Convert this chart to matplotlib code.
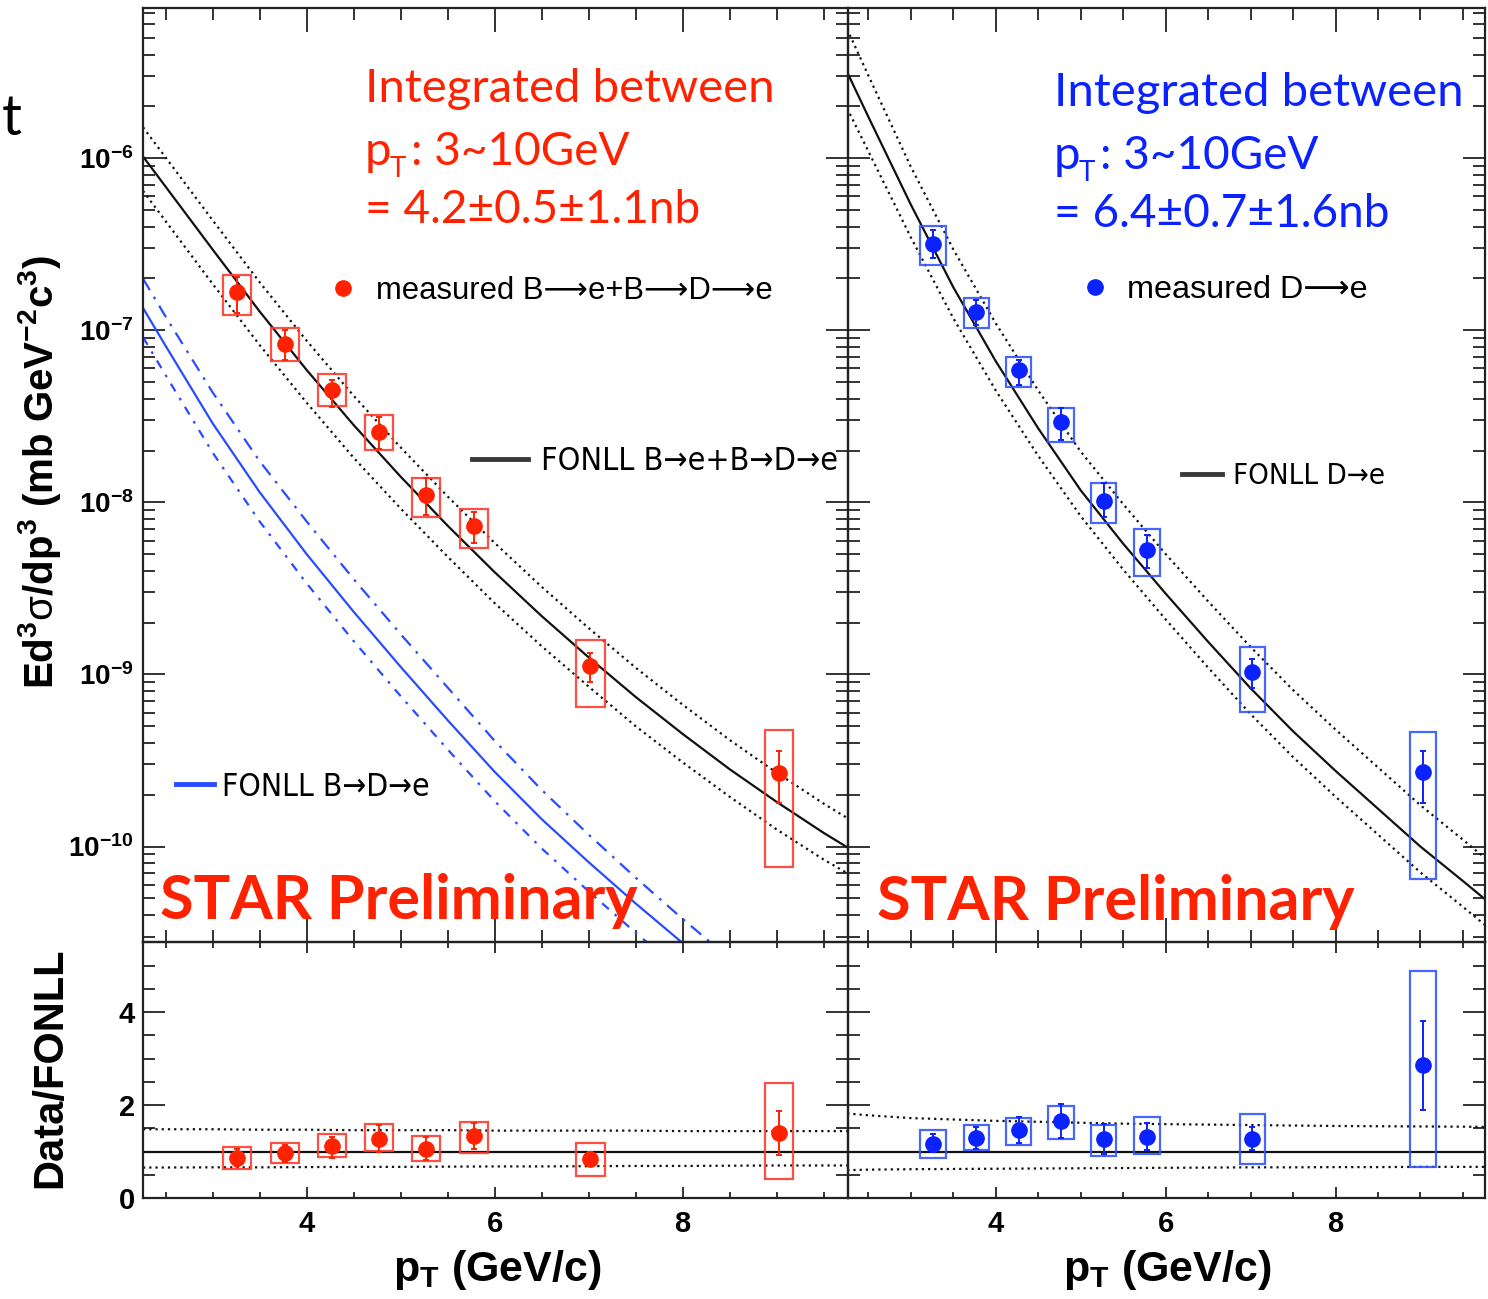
import numpy as np
import matplotlib
matplotlib.use("Agg")
import matplotlib.pyplot as plt
from matplotlib.ticker import MultipleLocator, LogLocator, FixedLocator, FuncFormatter, NullFormatter
from matplotlib.lines import Line2D

plt.rcParams['font.family'] = ['Liberation Sans', 'DejaVu Sans']
plt.rcParams['mathtext.fontset'] = 'custom'
plt.rcParams['mathtext.rm'] = 'Liberation Sans'
plt.rcParams['mathtext.it'] = 'Liberation Sans:italic'
plt.rcParams['mathtext.bf'] = 'Liberation Sans:bold'

# ---- data ----
pt = [3.26, 3.77, 4.27, 4.77, 5.27, 5.78, 7.02, 9.03]
box_hw = 0.15
decades = [1e-10, 1e-9, 1e-8, 1e-7, 1e-6]

# B->e + B->D->e (left)
be_val = [1.66e-7, 8.3e-8, 4.5e-8, 2.56e-8, 1.11e-8, 7.3e-9, 1.12e-9, 2.69e-10]
be_stat_hi = [2.04e-7, 1.00e-7, 5.15e-8, 3.14e-8, 1.39e-8, 8.81e-9, 1.34e-9, 3.61e-10]
be_stat_lo = [1.26e-7, 6.73e-8, 3.59e-8, 2.05e-8, 8.47e-9, 5.82e-9, 9.06e-10, 1.79e-10]
be_sys_hi = [2.10e-7, 1.03e-7, 5.58e-8, 3.22e-8, 1.39e-8, 9.12e-9, 1.59e-9, 4.76e-10]
be_sys_lo = [1.23e-7, 6.67e-8, 3.64e-8, 2.02e-8, 8.26e-9, 5.42e-9, 6.50e-10, 7.59e-11]

# D->e (right)
de_val = [3.18e-7, 1.28e-7, 5.89e-8, 2.92e-8, 1.02e-8, 5.30e-9, 1.03e-9, 2.73e-10]
de_stat_hi = [3.83e-7, 1.49e-7, 6.73e-8, 3.52e-8, 1.29e-8, 6.47e-9, 1.23e-9, 3.60e-10]
de_stat_lo = [2.62e-7, 1.07e-7, 4.82e-8, 2.31e-8, 8.26e-9, 4.15e-9, 8.32e-10, 1.80e-10]
de_sys_hi = [4.01e-7, 1.55e-7, 6.98e-8, 3.52e-8, 1.29e-8, 6.98e-9, 1.45e-9, 4.66e-10]
de_sys_lo = [2.40e-7, 1.03e-7, 4.71e-8, 2.25e-8, 7.57e-9, 3.74e-9, 6.08e-10, 6.46e-11]

# data / FONLL
be_ratio = [0.86, 0.97, 1.11, 1.28, 1.06, 1.33, 0.84, 1.39]
be_ratio_stat_hi = [1.06, 1.15, 1.31, 1.58, 1.31, 1.62, 0.99, 1.87]
be_ratio_stat_lo = [0.68, 0.78, 0.86, 0.99, 0.81, 1.05, 0.70, 0.92]
be_ratio_sys_hi = [1.10, 1.19, 1.37, 1.60, 1.34, 1.63, 1.19, 2.47]
be_ratio_sys_lo = [0.625, 0.76, 0.88, 1.01, 0.79, 0.97, 0.47, 0.40]

de_ratio = [1.17, 1.29, 1.47, 1.66, 1.26, 1.31, 1.26, 2.86]
de_ratio_stat_hi = [1.38, 1.52, 1.75, 2.02, 1.59, 1.62, 1.52, 3.81]
de_ratio_stat_lo = [0.99, 1.06, 1.19, 1.30, 0.94, 1.03, 1.03, 1.89]
de_ratio_sys_hi = [1.47, 1.57, 1.73, 1.99, 1.58, 1.75, 1.80, 4.89]
de_ratio_sys_lo = [0.87, 1.03, 1.15, 1.27, 0.91, 0.94, 0.74, 0.67]

# FONLL curves (log10 values)
pt_be = [2.26, 3.0, 3.5, 4.0, 4.5, 5.0, 5.5, 6.0, 6.5, 7.0, 7.5, 8.0, 8.5, 9.0, 9.5, 9.77]
fonll_be = [-5.99, -6.53, -6.89, -7.23, -7.55, -7.85, -8.135, -8.405, -8.66, -8.90, -9.13, -9.345, -9.55, -9.74, -9.92, -10.01]
fonll_be_hi = [-5.82, -6.36, -6.72, -7.06, -7.38, -7.68, -7.965, -8.235, -8.49, -8.73, -8.96, -9.175, -9.38, -9.57, -9.75, -9.84]
fonll_be_lo = [-6.19, -6.73, -7.085, -7.42, -7.74, -8.035, -8.315, -8.585, -8.835, -9.07, -9.30, -9.51, -9.71, -9.90, -10.075, -10.16]
band_be_hi = [1.48, 1.48, 1.47, 1.47, 1.46, 1.46, 1.46, 1.45, 1.45, 1.45, 1.45, 1.44, 1.44, 1.44, 1.44, 1.44]
band_be_lo = [0.655, 0.66, 0.66, 0.665, 0.67, 0.67, 0.675, 0.68, 0.68, 0.685, 0.69, 0.69, 0.695, 0.70, 0.70, 0.70]

pt_bde = [2.26, 2.5, 3.0, 3.5, 4.0, 4.5, 5.0, 5.5, 6.0, 6.5, 7.0, 7.5, 8.0, 8.5, 9.0]
fonll_bde = [-6.87, -7.09, -7.54, -7.94, -8.30, -8.635, -8.955, -9.265, -9.565, -9.84, -10.09, -10.33, -10.56, -10.78, -10.99]
fonll_bde_hi = [-6.70, -6.92, -7.36, -7.76, -8.11, -8.445, -8.765, -9.075, -9.385, -9.67, -9.93, -10.18, -10.42, -10.65, -10.86]
fonll_bde_lo = [-7.04, -7.26, -7.71, -8.11, -8.47, -8.805, -9.125, -9.435, -9.735, -10.01, -10.26, -10.50, -10.73, -10.95, -11.16]

pt_d = [2.25, 2.5, 3.0, 3.5, 4.0, 4.5, 5.0, 5.5, 6.0, 6.5, 7.0, 7.5, 8.0, 8.5, 9.0, 9.5, 9.77]
fonll_d = [-5.50, -5.76, -6.27, -6.75, -7.18, -7.57, -7.93, -8.24, -8.53, -8.81, -9.08, -9.33, -9.56, -9.78, -10.00, -10.20, -10.31]
fonll_d_hi = [-5.25, -5.52, -6.05, -6.53, -6.96, -7.35, -7.705, -8.01, -8.30, -8.575, -8.84, -9.09, -9.32, -9.54, -9.76, -9.96, -10.07]
fonll_d_lo = [-5.71, -5.96, -6.46, -6.93, -7.35, -7.73, -8.08, -8.39, -8.68, -8.96, -9.23, -9.48, -9.71, -9.93, -10.15, -10.35, -10.46]
band_d_hi = [1.82, 1.78, 1.72, 1.69, 1.66, 1.64, 1.62, 1.60, 1.59, 1.58, 1.57, 1.56, 1.55, 1.545, 1.54, 1.535, 1.53]
band_d_lo = [0.60, 0.61, 0.62, 0.625, 0.63, 0.635, 0.64, 0.645, 0.65, 0.655, 0.66, 0.66, 0.665, 0.665, 0.67, 0.67, 0.67]

RED = '#ff2200'
RED_BOX = '#ff3b30'
BLUE = '#0a22ff'
BLUE_BOX = '#3355ff'
BLUE_LINE = '#2a4cff'
DOTS = (0, (1.0, 1.8))

W, H = 1488, 1299
fig = plt.figure(figsize=(W / 100, H / 100), dpi=100)
renderer = fig.canvas.get_renderer()


def rect(x0, y0, x1, y1):
    return [x0 / W, 1 - y1 / H, (x1 - x0) / W, (y1 - y0) / H]


ax_tl = fig.add_axes(rect(143, 8, 848, 942))
ax_tr = fig.add_axes(rect(848, 8, 1485, 942))
ax_bl = fig.add_axes(rect(143, 942, 848, 1198))
ax_br = fig.add_axes(rect(848, 942, 1485, 1198))


def style(ax, top):
    ax.patch.set_visible(False)
    for s in ax.spines.values():
        s.set_linewidth(1.6)
        s.set_color('#222222')
    ax.set_xlim(2.26, 9.76)
    ax.xaxis.set_major_locator(MultipleLocator(2))
    ax.xaxis.set_minor_locator(MultipleLocator(0.5))
    ax.tick_params(which='both', direction='in', top=True, right=True,
                   color='#333333', width=1.4)
    if top:
        ax.set_yscale('log')
        ax.set_ylim(2.79e-11, 7.46e-6)
        ax.yaxis.set_major_locator(FixedLocator(decades))
        ax.yaxis.set_minor_locator(LogLocator(base=10, subs=np.arange(2, 10), numticks=20))
        ax.yaxis.set_minor_formatter(NullFormatter())
        ax.yaxis.set_major_formatter(FuncFormatter(
            lambda v, p: r'$\mathbf{10^{%d}}$' % int(round(np.log10(v)))))
        ax.tick_params(axis='x', which='major', length=17)
        ax.tick_params(axis='x', which='minor', length=8.5)
        ax.tick_params(axis='y', which='major', length=16, labelsize=20, pad=7)
        ax.tick_params(axis='y', which='minor', length=8.5)
        ax.tick_params(axis='x', labelbottom=False)
    else:
        ax.set_ylim(0, 5.51)
        ax.yaxis.set_major_locator(MultipleLocator(2))
        ax.yaxis.set_minor_locator(MultipleLocator(0.5))
        ax.tick_params(axis='x', which='major', length=8, labelsize=21, pad=9)
        ax.tick_params(axis='x', which='minor', length=4.5)
        ax.tick_params(axis='y', which='major', length=16, labelsize=21, pad=6)
        ax.tick_params(axis='y', which='minor', length=8.5)
        for lab in ax.get_xticklabels() + ax.get_yticklabels():
            lab.set_fontweight('bold')


for a, t in [(ax_tl, True), (ax_tr, True), (ax_bl, False), (ax_br, False)]:
    style(a, t)
ax_tr.tick_params(axis='y', labelleft=False)
ax_br.tick_params(axis='y', labelleft=False)


def points(ax, val, slo, shi, ylo, yhi, col, boxcol):
    val = np.array(val)
    ax.bar(pt, np.array(yhi) - np.array(ylo), bottom=ylo, width=2 * box_hw,
           fill=False, edgecolor=boxcol, linewidth=1.6, alpha=0.9, zorder=3)
    ax.errorbar(pt, val, yerr=[val - np.array(slo), np.array(shi) - val],
                fmt='o', ms=11, color=col, mec=col, elinewidth=1.4,
                capsize=2.5, capthick=1.4, zorder=4)


# ---- top left ----
ax_tl.plot(pt_bde, 10.0 ** np.array(fonll_bde), color=BLUE_LINE, lw=1.6)
ax_tl.plot(pt_bde, 10.0 ** np.array(fonll_bde_hi), color=BLUE_LINE, lw=1.6,
           ls=(0, (6, 3.5, 1.2, 3.5)))
ax_tl.plot(pt_bde, 10.0 ** np.array(fonll_bde_lo), color=BLUE_LINE, lw=1.6,
           ls=(0, (4, 3.5, 1.2, 3.5)))
ax_tl.plot(pt_be, 10.0 ** np.array(fonll_be), color='#111111', lw=1.6)
ax_tl.plot(pt_be, 10.0 ** np.array(fonll_be_hi), color='#111111', lw=1.6, ls=DOTS)
ax_tl.plot(pt_be, 10.0 ** np.array(fonll_be_lo), color='#111111', lw=1.6, ls=DOTS)
points(ax_tl, be_val, be_stat_lo, be_stat_hi, be_sys_lo, be_sys_hi, RED, RED_BOX)

# ---- top right ----
ax_tr.plot(pt_d, 10.0 ** np.array(fonll_d), color='#111111', lw=1.6)
ax_tr.plot(pt_d, 10.0 ** np.array(fonll_d_hi), color='#111111', lw=1.6, ls=DOTS)
ax_tr.plot(pt_d, 10.0 ** np.array(fonll_d_lo), color='#111111', lw=1.6, ls=DOTS)
points(ax_tr, de_val, de_stat_lo, de_stat_hi, de_sys_lo, de_sys_hi, BLUE, BLUE_BOX)

# ---- ratios ----
for ax, grid, hi, lo in [(ax_bl, pt_be, band_be_hi, band_be_lo),
                         (ax_br, pt_d, band_d_hi, band_d_lo)]:
    ax.axhline(1.0, color='#111111', lw=1.6)
    ax.plot(grid, hi, color='#111111', lw=1.6, ls=DOTS)
    ax.plot(grid, lo, color='#111111', lw=1.6, ls=DOTS)
points(ax_bl, be_ratio, be_ratio_stat_lo, be_ratio_stat_hi, be_ratio_sys_lo, be_ratio_sys_hi, RED, RED_BOX)
points(ax_br, de_ratio, de_ratio_stat_lo, de_ratio_stat_hi, de_ratio_sys_lo, de_ratio_sys_hi, BLUE, BLUE_BOX)

# ---- legends (sized so the text spans the same width as in the picture) ----
narrow = {'family': ['Liberation Sans Narrow', 'DejaVu Sans'], 'stretch': 'condensed'}
regular = {'family': ['Liberation Sans', 'DejaVu Sans']}


def fit_size(s, prop, width_px, size0=24.0):
    t = fig.text(0, 0, s, fontsize=size0, **prop)
    w = t.get_window_extent(renderer).width
    t.remove()
    return size0 * width_px / w


def legend(handle, text, x_handle, handle_px, x_text, text_px, y, prop):
    size = fit_size(text, prop, text_px)
    fs_px = size * 100 / 72
    p = dict(prop)
    p['size'] = size
    fig.legend(handles=[handle], labels=[text], loc='center left',
               bbox_to_anchor=(x_handle / W, 1 - y / H), frameon=False, prop=p,
               handlelength=handle_px / fs_px,
               handletextpad=(x_text - x_handle - handle_px) / fs_px,
               borderpad=0, borderaxespad=0)


legend(Line2D([], [], ls='none', marker='o', ms=11, color=RED),
       'measured B⟶e+B⟶D⟶e', 330, 26, 376, 396, 291, regular)
legend(Line2D([], [], color='#3a3a3a', lw=3.5),
       'FONLL B→e+B→D→e', 472, 56, 541, 297, 462, narrow)
legend(Line2D([], [], color=BLUE_LINE, lw=3.5),
       'FONLL B→D→e', 176, 38, 222, 208, 787, narrow)
legend(Line2D([], [], ls='none', marker='o', ms=11, color=BLUE),
       'measured D⟶e', 1082, 26, 1127, 241, 290, regular)
legend(Line2D([], [], color='#3a3a3a', lw=3.5),
       'FONLL D→e', 1182, 40, 1233, 152, 476, narrow)

# ---- axis titles ----
fig.text(40 / W, 1 - 472 / H,
         r'$\mathbf{Ed^3}\mathrm{\sigma}\mathbf{/dp^3\ (mb\ GeV^{-2}c^3)}$',
         rotation=90, ha='center', va='center', fontsize=29)
fig.text(50 / W, 1 - 1068 / H, 'Data/FONLL', rotation=90, ha='center',
         va='center', fontsize=30, fontweight='bold')
for cx in (497, 1167):
    fig.text(cx / W, 1 - 1281 / H, r'$\mathbf{p_T\ (GeV/c)}$', ha='center',
             va='baseline', fontsize=31)

# ---- annotations ----
calibri = ['Lato', 'DejaVu Sans']


def ftext(x, y, s, **kw):
    fig.text(x / W, 1 - y / H, s, va='baseline', family=calibri, **kw)


for x0, col, res in [(365, RED, '= 4.2±0.5±1.1nb'), (1054, BLUE, '= 6.4±0.7±1.6nb')]:
    dy = 0 if col == RED else 4
    ftext(x0, 102 + dy, 'Integrated between', color=col, fontsize=34)
    ftext(x0, 165 + dy, 'p', color=col, fontsize=34)
    ftext(x0 + 25, 177 + dy, 'T', color=col, fontsize=20)
    ftext(x0 + 46, 165 + dy, ': 3~10GeV', color=col, fontsize=33)
    ftext(x0, 223 + dy, res, color=col, fontsize=33)

ftext(160, 919, 'STAR Preliminary', color=RED, fontsize=44, fontweight='bold')
ftext(877, 920, 'STAR Preliminary', color=RED, fontsize=44, fontweight='bold')
ftext(2, 135, 't', color='black', fontsize=40)

fig.savefig('out.png', dpi=100)
